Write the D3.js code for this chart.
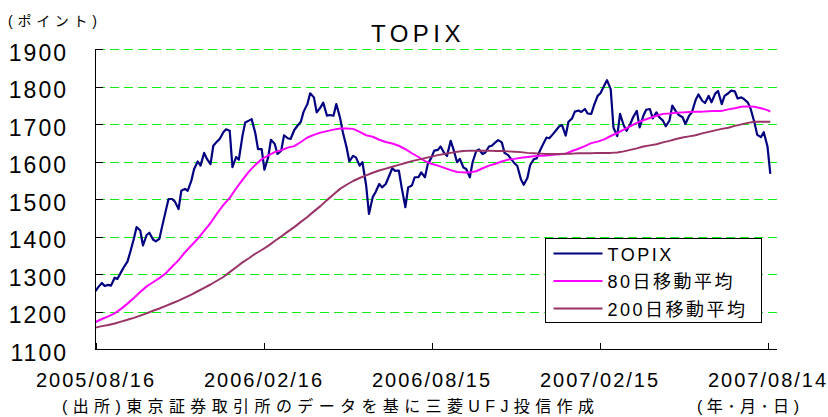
<!DOCTYPE html>
<html lang="ja">
<head>
<meta charset="UTF-8">
<title>TOPIX</title>
<script src="https://cdnjs.cloudflare.com/ajax/libs/d3/7.8.5/d3.min.js"></script>
<style>
  body { margin: 0; background: #fff; }
  svg { font-family: "Liberation Sans", Arial, "Noto Sans CJK JP", sans-serif; }
  .axis path, .axis line { stroke: #000; shape-rendering: crispEdges; }
  .axis text { fill: #000; }
  .grid line { stroke: #11ee11; stroke-dasharray: 9,5; shape-rendering: crispEdges; }
</style>
</head>
<body>
<script>
const width = 828, height = 417;

// one Tuesday per week; TOPIX is read twice a week (Tue, Fri)
const weeks = [
  "2005-08-16","2005-08-23","2005-08-30","2005-09-06","2005-09-13","2005-09-20","2005-09-27",
  "2005-10-04","2005-10-11","2005-10-18","2005-10-25","2005-11-01","2005-11-08","2005-11-15",
  "2005-11-22","2005-11-29","2005-12-06","2005-12-13","2005-12-20","2005-12-27",
  "2006-01-03","2006-01-10","2006-01-17","2006-01-24","2006-01-31","2006-02-07","2006-02-14",
  "2006-02-21","2006-02-28","2006-03-07","2006-03-14","2006-03-21","2006-03-28","2006-04-04",
  "2006-04-11","2006-04-18","2006-04-25","2006-05-02","2006-05-09","2006-05-16","2006-05-23",
  "2006-05-30","2006-06-06","2006-06-13","2006-06-20","2006-06-27","2006-07-04","2006-07-11",
  "2006-07-18","2006-07-25","2006-08-01","2006-08-08","2006-08-15","2006-08-22","2006-08-29",
  "2006-09-05","2006-09-12","2006-09-19","2006-09-26","2006-10-03","2006-10-10","2006-10-17",
  "2006-10-24","2006-10-31","2006-11-07","2006-11-14","2006-11-21","2006-11-28","2006-12-05",
  "2006-12-12","2006-12-19","2006-12-26",
  "2007-01-02","2007-01-09","2007-01-16","2007-01-23","2007-01-30","2007-02-06","2007-02-13",
  "2007-02-20","2007-02-27","2007-03-06","2007-03-13","2007-03-20","2007-03-27","2007-04-03",
  "2007-04-10","2007-04-17","2007-04-24","2007-05-01","2007-05-08","2007-05-15","2007-05-22",
  "2007-05-29","2007-06-05","2007-06-12","2007-06-19","2007-06-26","2007-07-03","2007-07-10",
  "2007-07-17","2007-07-24","2007-07-31","2007-08-07","2007-08-14"
];
const lastDay = "2007-08-17";

const topix = [
  1254,1265, 1276,1268, 1271,1269, 1290,1287, 1305,1318, 1333,1358, 1394,1425, 1416,1376,
  1404,1410, 1392,1387, 1394,1427, 1469,1500, 1500,1493, 1473,1522, 1527,1522, 1549,1580,
  1600,1589, 1623,1607, 1593,1642, 1653,1660, 1678,1686, 1682,1585, 1612,1605, 1669,1704,
  1709,1713, 1676,1633, 1633,1578, 1611,1658, 1647,1620, 1629,1670, 1662,1660, 1684,1694,
  1706,1733, 1753,1782, 1771,1731, 1744,1757, 1722,1724, 1722,1753, 1717,1678, 1638,1600,
  1615,1611, 1589,1598, 1536,1460, 1505,1518, 1540,1531, 1540,1558, 1582,1575, 1576,1531,
  1478,1531, 1536,1558, 1558,1571, 1558,1593, 1611,1629, 1631,1640, 1622,1615, 1655,1633,
  1598,1607, 1584,1580, 1558,1598, 1628,1632, 1620,1624, 1640,1642, 1651,1657, 1651,1623,
  1617,1607, 1595,1588, 1552,1538, 1556,1590, 1606,1608, 1630,1645, 1664,1662, 1673,1682,
  1694,1697, 1669,1706, 1715,1733, 1736,1732, 1740,1728, 1727,1750, 1775,1782, 1802,1817,
  1793,1690, 1668,1727, 1696,1682, 1700,1718, 1735,1691, 1722,1738, 1740,1715, 1731,1718,
  1709,1694, 1709,1749, 1733,1724, 1718,1700, 1722,1731, 1764,1779, 1762,1756, 1775,1758,
  1781,1788, 1753,1775, 1782,1789, 1787,1768, 1771,1766, 1757,1740, 1704,1671, 1665,1678,
  1640,1567
];

// moving averages, one reading per week plus the last day
const ma80 = [
  1172,1180,1187,1195,1207,1221,1236,1252,1267,1278,1289,1302,1320,1337,1358,1376,1394,1415,
  1436,1461,1484,1503,1528,1551,1573,1591,1606,1616,1625,1630,1637,1641,1652,1664,1671,1677,
  1681,1685,1688,1688,1687,1679,1670,1666,1658,1652,1648,1642,1633,1622,1612,1601,1594,1589,
  1583,1577,1572,1571,1571,1574,1582,1589,1594,1600,1605,1607,1610,1612,1614,1615,1616,1618,
  1619,1621,1628,1634,1641,1649,1653,1659,1668,1676,1685,1694,1703,1710,1716,1722,1727,1728,
  1730,1731,1732,1733,1733,1734,1735,1735,1739,1742,1746,1747,1746,1742,1737,1733
];
const ma200 = [
  1157,1161,1164,1168,1173,1178,1183,1189,1195,1202,1208,1215,1222,1229,1237,1245,1254,1263,
  1272,1282,1292,1305,1318,1331,1342,1354,1364,1375,1388,1400,1413,1425,1439,1452,1467,1481,
  1497,1512,1527,1538,1548,1556,1563,1570,1576,1581,1586,1591,1596,1601,1605,1609,1613,1617,
  1620,1623,1626,1628,1629,1629,1629,1629,1628,1628,1627,1626,1625,1623,1622,1621,1620,1620,
  1620,1621,1621,1622,1622,1622,1623,1623,1623,1624,1627,1631,1635,1640,1643,1646,1651,1655,
  1660,1664,1667,1670,1675,1679,1683,1687,1690,1695,1699,1703,1706,1706,1706,1706
];

const tickDates = ["2005-08-16","2006-02-16","2006-08-15","2007-02-15","2007-08-14"];
const yTicks = [1100,1200,1300,1400,1500,1600,1700,1800,1900];
const seriesNames = ["TOPIX", "80日移動平均", "200日移動平均"];
const seriesColors = ["#000080", "#ff00ff", "#993366"];

const parse = d3.timeParse("%Y-%m-%d");
const weekDates = weeks.map(parse);
const topixDates = weekDates.flatMap(d => [d, d3.timeDay.offset(d, 3)]);
const maDates = weekDates.concat([parse(lastDay)]);

const plotLeft = 95, plotRight = 777, plotTop = 49, plotBottom = 349;
const tickStep = 168;

const x = d3.scaleTime()
  .domain(tickDates.map(parse))
  .range(tickDates.map((d, i) => plotLeft + 0.5 + i * tickStep));
const y = d3.scaleLinear()
  .domain([1100, 1900])
  .range([plotBottom, plotTop]);

const svg = d3.select("body").append("svg")
  .attr("width", width)
  .attr("height", height);

// gridlines
svg.append("g").attr("class", "grid")
  .selectAll("line")
  .data(yTicks.slice(1))
  .enter().append("line")
  .attr("x1", plotLeft + 1)
  .attr("x2", plotRight)
  .attr("y1", d => y(d) + 0.5)
  .attr("y2", d => y(d) + 0.5);

// series
const series = [
  topixDates.map((d, i) => ({date: d, value: topix[i]})),
  maDates.map((d, i) => ({date: d, value: ma80[i]})),
  maDates.map((d, i) => ({date: d, value: ma200[i]}))
];
const line = d3.line()
  .x(d => x(d.date))
  .y(d => y(d.value));

series.forEach((s, i) => {
  svg.append("path")
    .datum(s)
    .attr("fill", "none")
    .attr("stroke", seriesColors[i])
    .attr("stroke-width", i === 0 ? 2.2 : 2)
    .attr("stroke-linejoin", "round")
    .attr("d", line);
});

// axes
const yAxis = d3.axisLeft(y)
  .tickValues(yTicks)
  .tickSizeInner(-8)
  .tickSizeOuter(0)
  .tickPadding(27)
  .tickFormat(d3.format("d"));
const gy = svg.append("g")
  .attr("class", "axis")
  .attr("transform", "translate(" + plotLeft + ",0)")
  .call(yAxis);
gy.selectAll("text")
  .attr("dy", "0.48em")
  .attr("font-size", "23px")
  .attr("letter-spacing", "2px");

const xAxis = d3.axisBottom(x)
  .tickValues(tickDates.map(parse))
  .tickSizeInner(-6)
  .tickSizeOuter(0)
  .tickPadding(24)
  .tickFormat(d3.timeFormat("%Y/%m/%d"));
const gx = svg.append("g")
  .attr("class", "axis")
  .attr("transform", "translate(0," + plotBottom + ")")
  .call(xAxis);
gx.select(".domain").remove();
gx.append("line")
  .attr("x1", plotLeft + 0.5).attr("x2", plotRight)
  .attr("y1", 0.5).attr("y2", 0.5);
gx.selectAll("text")
  .attr("font-size", "20px")
  .attr("letter-spacing", "2px");

// title and notes
svg.append("text")
  .attr("x", 418).attr("y", 42)
  .attr("text-anchor", "middle")
  .attr("font-size", "24px")
  .attr("letter-spacing", "4.5px")
  .text("TOPIX");

svg.append("text")
  .attr("x", 8).attr("y", 26)
  .attr("font-size", "14px")
  .attr("textLength", 89)
  .attr("lengthAdjust", "spacing")
  .text("(ポイント)");

svg.append("text")
  .attr("x", 62).attr("y", 412)
  .attr("font-size", "16px")
  .attr("textLength", 532)
  .attr("lengthAdjust", "spacing")
  .text("(出所)東京証券取引所のデータを基に三菱UFJ投信作成");

svg.append("text")
  .attr("x", 697).attr("y", 412)
  .attr("font-size", "16px")
  .attr("textLength", 102)
  .attr("lengthAdjust", "spacing")
  .text("(年･月･日)");

// legend
const legend = svg.append("g").attr("transform", "translate(545.5,238.5)");
legend.append("rect")
  .attr("width", 216).attr("height", 84)
  .attr("fill", "#fff")
  .attr("stroke", "#000")
  .attr("stroke-width", 1);
seriesNames.forEach((name, i) => {
  const ly = 15 + i * 27.5;
  legend.append("line")
    .attr("x1", 8).attr("x2", 57)
    .attr("y1", ly).attr("y2", ly)
    .attr("stroke", seriesColors[i])
    .attr("stroke-width", 2);
  legend.append("text")
    .attr("x", 62).attr("y", ly + 7)
    .attr("font-size", "18px")
    .attr("letter-spacing", "2.5px")
    .text(name);
});
</script>
</body>
</html>
